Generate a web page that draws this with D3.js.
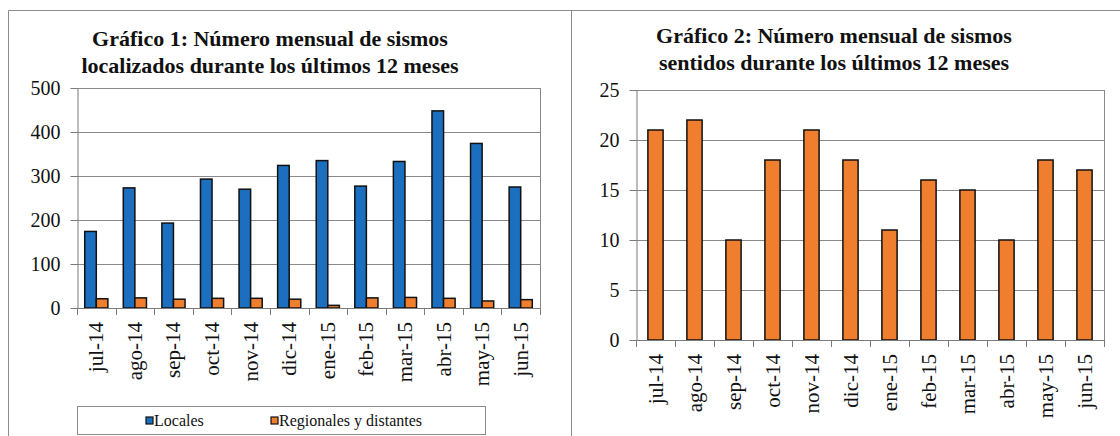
<!DOCTYPE html>
<html>
<head>
  <meta charset="utf-8">
  <title>Sismos mensuales</title>
  <style>
    body { margin: 0; background: #fff; }
    svg text { fill: #111; }
    .grid line { stroke: #8a8a8a; stroke-width: 1px; }
    .axis path, .axis line { stroke: #7a7a7a; stroke-width: 1px; }
    .bar { stroke: #111; stroke-width: 1.5px; }
  </style>
</head>
<body>
  <svg width="1120" height="436" font-family="Liberation Serif, Times New Roman, serif"></svg>
  <script src="https://d3js.org/d3.v7.min.js"></script>
  <script>
    const serif = "'Liberation Serif', 'Times New Roman', serif";

    // months shared by both charts
    const months = ["jul-14", "ago-14", "sep-14", "oct-14", "nov-14", "dic-14",
                    "ene-15", "feb-15", "mar-15", "abr-15", "may-15", "jun-15"];

    // chart 1: located earthquakes
    const locales = [174, 273, 193, 293, 270, 324, 335, 277, 333, 448, 374, 275];
    const regionales = [21, 23, 20, 22, 22, 20, 6, 23, 24, 22, 16, 19];
    const ticks1 = [0, 100, 200, 300, 400, 500];

    // chart 2: felt earthquakes
    const sentidos = [21, 22, 10, 18, 21, 18, 11, 16, 15, 10, 18, 17];
    const ticks2 = [0, 5, 10, 15, 20, 25];

    const blue = "#1c6ebf", orange = "#ef7f2f";

    const svg = d3.select("svg");

    // outer frames
    svg.append("path")
       .attr("d", "M8.5,436V10.5H1120M571.5,436V10.5")
       .attr("fill", "none")
       .attr("stroke", "#8c8c8c")
       .attr("stroke-width", 1);

    function drawChart(opt) {
      const g = svg.append("g");
      const x = d3.scaleBand().domain(months).range([opt.left, opt.right]);
      const y = d3.scaleLinear().domain([0, opt.ticks[opt.ticks.length - 1]])
                  .range([opt.bottom, opt.top]);

      // title
      g.selectAll(".title").data(opt.title).enter().append("text")
       .attr("class", "title")
       .attr("x", opt.titleX)
       .attr("y", (d, i) => opt.titleY + i * 27)
       .attr("text-anchor", "middle")
       .style("font-family", serif)
       .style("font-weight", "bold")
       .style("font-size", "22px")
       .text(d => d);

      // gridlines
      g.append("g").attr("class", "grid")
       .selectAll("line").data(opt.ticks.slice(1)).enter().append("line")
       .attr("x1", opt.left).attr("x2", opt.right)
       .attr("y1", d => Math.round(y(d)) + 0.5).attr("y2", d => Math.round(y(d)) + 0.5);

      // plot border (right side)
      g.append("line")
       .attr("x1", opt.right + 0.5).attr("x2", opt.right + 0.5)
       .attr("y1", opt.top).attr("y2", opt.bottom)
       .attr("stroke", "#8a8a8a");

      // y axis
      const ya = g.append("g").attr("class", "axis")
       .attr("transform", `translate(${opt.left + 0.5},0)`)
       .call(d3.axisLeft(y).tickValues(opt.ticks).tickSize(7).tickPadding(10).tickSizeOuter(0));
      ya.attr("font-family", serif);
      ya.selectAll("text").style("font-size", "20px").style("font-family", serif);

      // bars
      const n = opt.series.length;
      const bw = x.bandwidth() * opt.barFrac;
      opt.series.forEach((s, si) => {
        g.append("g").selectAll("rect").data(s.values).enter().append("rect")
         .attr("class", "bar")
         .attr("fill", s.color)
         .attr("x", (d, i) => x(months[i]) + x.bandwidth() / 2 - n * bw / 2 + si * bw)
         .attr("width", bw)
         .attr("y", d => y(d))
         .attr("height", d => y(0) - y(d));
      });

      // x axis with ticks between categories
      const xa = g.append("g").attr("class", "axis");
      xa.append("line")
        .attr("x1", opt.left).attr("x2", opt.right)
        .attr("y1", Math.round(y(0)) + 0.5).attr("y2", Math.round(y(0)) + 0.5);
      xa.selectAll(".tk").data(d3.range(months.length + 1)).enter().append("line")
        .attr("x1", i => Math.round(opt.left + i * x.step()) + 0.5)
        .attr("x2", i => Math.round(opt.left + i * x.step()) + 0.5)
        .attr("y1", y(0)).attr("y2", y(0) + 7);
      g.selectAll(".xl").data(months).enter().append("text")
       .attr("transform", d => `translate(${x(d) + x.bandwidth() / 2 + 7},${y(0) + 14}) rotate(-90)`)
       .attr("text-anchor", "end")
       .style("font-family", serif)
       .style("font-size", "21px")
       .text(d => d);
      return g;
    }

    drawChart({
      left: 77, right: 540, top: 88, bottom: 308,
      ticks: ticks1, barFrac: 0.3,
      title: ["Gráfico 1: Número mensual de sismos", "localizados durante los últimos 12 meses"],
      titleX: 270, titleY: 46,
      series: [{ values: locales, color: blue }, { values: regionales, color: orange }]
    });

    drawChart({
      left: 636, right: 1104, top: 90, bottom: 340,
      ticks: ticks2, barFrac: 0.39,
      title: ["Gráfico 2: Número mensual de sismos", "sentidos durante los últimos 12 meses"],
      titleX: 834, titleY: 43,
      series: [{ values: sentidos, color: orange }]
    });

    // legend of chart 1
    const legend = svg.append("g");
    legend.append("rect")
      .attr("x", 77.5).attr("y", 406.5).attr("width", 408).attr("height", 28)
      .attr("fill", "none").attr("stroke", "#8c8c8c");
    const items = [{ name: "Locales", color: blue, x: 146 },
                   { name: "Regionales y distantes", color: orange, x: 271 }];
    items.forEach(it => {
      legend.append("rect")
        .attr("x", it.x).attr("y", 417).attr("width", 7).attr("height", 7)
        .attr("fill", it.color).attr("stroke", "#111").attr("stroke-width", 1.2);
      legend.append("text")
        .attr("x", it.x + 8).attr("y", 426)
        .style("font-family", serif)
        .style("font-size", "16px")
        .text(it.name);
    });
  </script>
</body>
</html>
